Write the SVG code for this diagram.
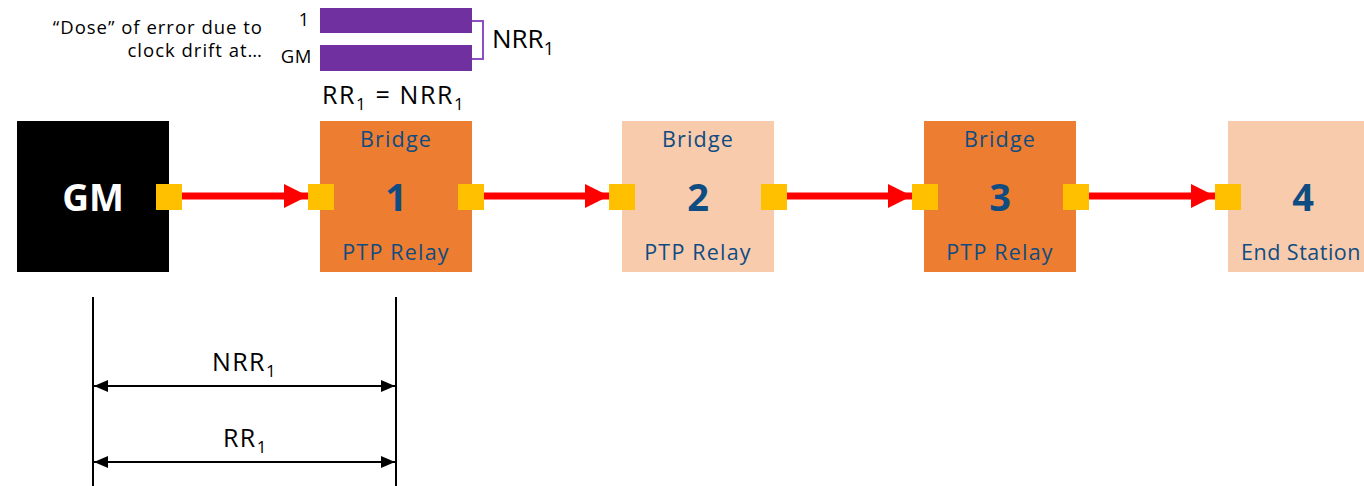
<svg xmlns="http://www.w3.org/2000/svg" width="1364" height="486" viewBox="0 0 1364 486">
  <defs>
    <style>
      text { font-family: "Open Sans", "Noto Sans", "Liberation Sans", sans-serif; }
      .box-dark { fill: #ED7D31; }
      .box-light { fill: #F8CBAD; }
      .port { fill: #FFC000; }
      .lbl { fill: #0F4C81; font-size: 21.5px; letter-spacing: 1.2px; text-anchor: middle; }
      .num { fill: #0F4C81; font-size: 38px; font-weight: bold; text-anchor: middle; }
      .flow { stroke: #FF0000; stroke-width: 7; fill: none; }
      .dim { stroke: #000; stroke-width: 2; fill: none; }
      .black { fill: #000; }
      .bar { fill: #7030A0; }
      .note { font-size: 18.5px; letter-spacing: 1px; text-anchor: end; }
      .eq { font-size: 25px; letter-spacing: 1.6px; }
    </style>
    <marker id="redHead" viewBox="0 0 24 24" refX="24" refY="12" markerWidth="24" markerHeight="24" markerUnits="userSpaceOnUse" orient="auto">
      <path d="M0,0 L24,12 L0,24 Z" fill="#FF0000"/>
    </marker>
    <marker id="dimHead" viewBox="0 0 14 12" refX="14" refY="6" markerWidth="14" markerHeight="12" markerUnits="userSpaceOnUse" orient="auto-start-reverse">
      <path d="M0,0 L14,6 L0,12 Z" fill="#000"/>
    </marker>
  </defs>

  <!-- legend: error dose bars -->
  <g id="legend">
    <text x="263" y="34" class="note black">“Dose” of error due to</text>
    <text x="263" y="57" class="note black">clock drift at…</text>
    <text x="309" y="26" font-size="18" text-anchor="end" class="black">1</text>
    <text x="312" y="63" font-size="18.5" letter-spacing="0.6" text-anchor="end" class="black">GM</text>
    <rect class="bar" x="320" y="8" width="152" height="25"/>
    <rect class="bar" x="320" y="45" width="152" height="26"/>
    <path d="M472,21 H483 V59 H472" stroke="#8E4FC0" stroke-width="2" fill="none"/>
    <text x="492" y="48" font-size="26" class="black">NRR<tspan font-size="18" dy="7">1</tspan></text>
    <text x="322" y="104" class="eq black">RR<tspan font-size="17" dy="6">1</tspan><tspan dy="-6"> = NRR</tspan><tspan font-size="17" dy="6">1</tspan></text>
  </g>

  <!-- grandmaster -->
  <g id="gm">
    <rect x="17" y="121" width="152" height="151" fill="#000"/>
    <text x="93" y="211" font-size="37" font-weight="bold" fill="#FFF" text-anchor="middle">GM</text>
    <rect class="port" x="156" y="184" width="26" height="26"/>
  </g>

  <!-- bridges and end station -->
  <g id="bridge1">
    <rect class="box-dark" x="320" y="121" width="152" height="151"/>
    <text class="lbl" x="396" y="147">Bridge</text>
    <text class="num" x="396" y="211">1</text>
    <text class="lbl" x="396" y="260">PTP Relay</text>
    <rect class="port" x="308" y="184" width="26" height="26"/>
    <rect class="port" x="458" y="184" width="26" height="26"/>
  </g>
  <g id="bridge2">
    <rect class="box-light" x="622" y="121" width="152" height="151"/>
    <text class="lbl" x="698" y="147">Bridge</text>
    <text class="num" x="698" y="211">2</text>
    <text class="lbl" x="698" y="260">PTP Relay</text>
    <rect class="port" x="609" y="184" width="26" height="26"/>
    <rect class="port" x="761" y="184" width="26" height="26"/>
  </g>
  <g id="bridge3">
    <rect class="box-dark" x="924" y="121" width="152" height="151"/>
    <text class="lbl" x="1000" y="147">Bridge</text>
    <text class="num" x="1000" y="211">3</text>
    <text class="lbl" x="1000" y="260">PTP Relay</text>
    <rect class="port" x="912" y="184" width="26" height="26"/>
    <rect class="port" x="1063" y="184" width="26" height="26"/>
  </g>
  <g id="endstation4">
    <rect class="box-light" x="1228" y="121" width="152" height="151"/>
    <text class="num" x="1303" y="211">4</text>
    <text class="lbl" x="1241" y="260" style="text-anchor:start; letter-spacing:0.5px">End Station</text>
    <rect class="port" x="1215" y="184" width="26" height="26"/>
  </g>

  <!-- sync flow connectors -->
  <g id="connectors">
    <line class="flow" x1="182" y1="196" x2="308" y2="196" marker-end="url(#redHead)"/>
    <line class="flow" x1="484" y1="196" x2="609" y2="196" marker-end="url(#redHead)"/>
    <line class="flow" x1="787" y1="196" x2="912" y2="196" marker-end="url(#redHead)"/>
    <line class="flow" x1="1089" y1="196" x2="1215" y2="196" marker-end="url(#redHead)"/>
  </g>

  <!-- ratio dimension lines -->
  <g id="dimensions">
    <line class="dim" x1="93" y1="297" x2="93" y2="486" stroke-width="2.5"/>
    <line class="dim" x1="396" y1="297" x2="396" y2="486" stroke-width="2.5"/>
    <line class="dim" x1="94" y1="386" x2="395" y2="386" marker-start="url(#dimHead)" marker-end="url(#dimHead)"/>
    <line class="dim" x1="94" y1="462" x2="395" y2="462" marker-start="url(#dimHead)" marker-end="url(#dimHead)"/>
    <text x="212" y="371" font-size="25" letter-spacing="1.4" class="black">NRR<tspan font-size="17" dy="6">1</tspan></text>
    <text x="223" y="447" font-size="25" letter-spacing="1.4" class="black">RR<tspan font-size="17" dy="6">1</tspan></text>
  </g>
</svg>
